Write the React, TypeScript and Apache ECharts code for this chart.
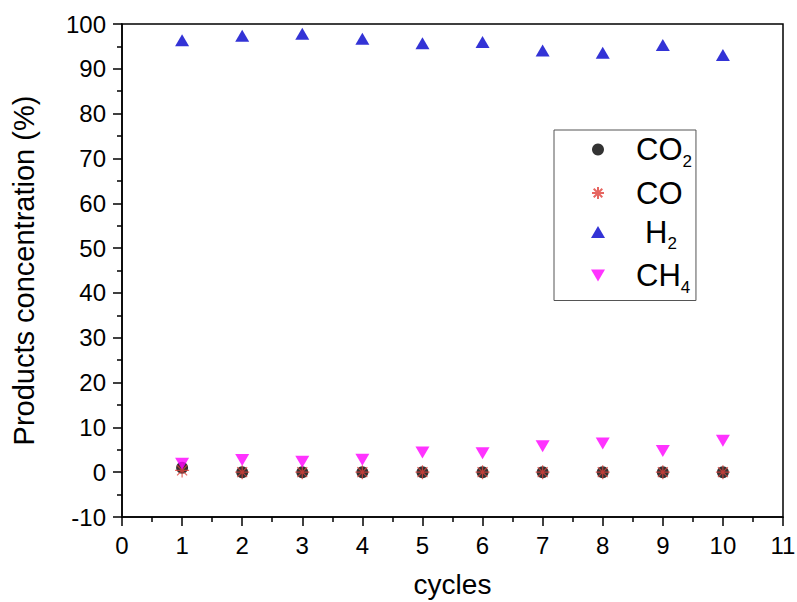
import React, { useEffect, useRef } from "react";
import * as echarts from "echarts";

const cycles = [1, 2, 3, 4, 5, 6, 7, 8, 9, 10];
const co2Values = [1.0, 0, 0, 0, 0, 0, 0, 0, 0, 0];
const coValues = [0.4, 0, 0, 0, 0, 0, 0, 0, 0, 0];
const h2Values = [96.4, 97.4, 97.8, 96.7, 95.7, 96.0, 94.1, 93.6, 95.3, 93.1];
const ch4Values = [1.9, 2.7, 2.3, 2.8, 4.4, 4.2, 5.8, 6.4, 4.7, 7.0];

const legendLabels: Record<string, string> = {
  CO2: "{a|CO}{s|2}",
  CO: "{a|CO}",
  H2: "{h|H}{s|2}",
  CH4: "{a|CH}{s|4}",
};

const FONT = "'Liberation Sans', Arial, Helvetica, sans-serif";
const ASTERISK = "path://M7,0L7,14M0,7L14,7M2,2L12,12M2,12L12,2";
const DOWN_TRIANGLE = "path://M0,0L14,0L7,12Z";

const pairs = (vals: number[]) => cycles.map((c, i) => [c, vals[i]]);

export default function App() {
  const ref = useRef<HTMLDivElement>(null);
  useEffect(() => {
    if (!ref.current) return;
    const chart = echarts.init(ref.current, null, { renderer: "svg" });
    const axisCommon = {
      axisLine: { show: true, onZero: false, lineStyle: { color: "#000", width: 1.5 } },
      axisTick: { show: true, inside: false, length: 9, lineStyle: { color: "#000", width: 1.5 } },
      minorTick: { show: true, splitNumber: 2, length: 5, lineStyle: { color: "#000", width: 1.5 } },
      splitLine: { show: false },
      minorSplitLine: { show: false },
    };
    chart.setOption({
      animation: false,
      backgroundColor: "#fff",
      grid: {
        left: 122,
        right: 14,
        top: 24,
        bottom: 85,
        show: true,
        borderColor: "#000",
        borderWidth: 1.5,
        containLabel: false,
        outerBoundsMode: "none",
      },
      xAxis: {
        type: "value",
        min: 0,
        max: 11,
        interval: 1,
        name: "cycles",
        nameLocation: "middle",
        nameGap: 53,
        nameTextStyle: { color: "#000", fontSize: 28, fontFamily: FONT },
        axisLabel: { color: "#000", fontSize: 24, fontFamily: FONT, margin: 16 },
        ...axisCommon,
      },
      yAxis: {
        type: "value",
        min: -10,
        max: 100,
        interval: 10,
        name: "Products concentration (%)",
        nameLocation: "middle",
        nameGap: 84,
        nameTextStyle: { color: "#000", fontSize: 29, fontFamily: FONT },
        axisLabel: { color: "#000", fontSize: 24, fontFamily: FONT, margin: 16 },
        ...axisCommon,
      },
      legend: {
        data: [
          { name: "CO2" },
          { name: "CO" },
          { name: "H2" },
          { name: "CH4", icon: DOWN_TRIANGLE },
        ],
        orient: "vertical",
        left: 554,
        top: 130,
        padding: [4, 4, 5, 37],
        itemGap: 8,
        itemWidth: 14,
        itemHeight: 12,
        borderColor: "#555",
        borderWidth: 1,
        backgroundColor: "#fff",
        formatter: (name: string) => legendLabels[name] || name,
        textStyle: {
          color: "#000",
          fontFamily: FONT,
          rich: {
            a: { fontSize: 31, fontFamily: FONT, color: "#000", lineHeight: 40, padding: [0, 0, 0, 26] },
            h: { fontSize: 31, fontFamily: FONT, color: "#000", lineHeight: 40, padding: [0, 0, 0, 35] },
            s: { fontSize: 17, fontFamily: FONT, color: "#000", lineHeight: 17, verticalAlign: "bottom" },
          },
        },
      },
      series: [
        {
          name: "CO2",
          type: "scatter",
          symbol: "circle",
          symbolSize: 12,
          itemStyle: { color: "#000" },
          data: pairs(co2Values),
        },
        {
          name: "CO",
          type: "scatter",
          symbol: ASTERISK,
          symbolSize: 14,
          itemStyle: { color: "rgba(0,0,0,0)", borderColor: "#e0403a", borderWidth: 1.2 },
          data: pairs(coValues),
        },
        {
          name: "H2",
          type: "scatter",
          symbol: "triangle",
          symbolSize: [14, 12],
          itemStyle: { color: "#0000cc" },
          data: pairs(h2Values),
        },
        {
          name: "CH4",
          type: "scatter",
          symbol: DOWN_TRIANGLE,
          symbolSize: [14, 12],
          itemStyle: { color: "#ff00ff" },
          data: pairs(ch4Values),
        },
      ],
    });
    return () => chart.dispose();
  }, []);
  return <div ref={ref} style={{ width: 797, height: 602, position: "absolute", left: 0, top: 0 }} />;
}
